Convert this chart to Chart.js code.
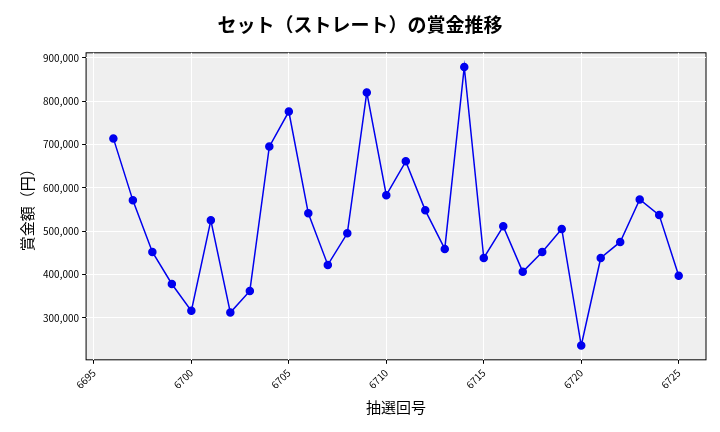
<!DOCTYPE html>
<html lang="ja">
<head>
<meta charset="UTF-8" />
<script src="https://cdn.jsdelivr.net/npm/chart.js"></script>
<style>
  body { margin: 0; background: #fff; }
  .wrap { width: 720px; height: 432px; }
</style>
</head>
<body>
<div class="wrap"><canvas id="c"></canvas></div>
<script>
const draws = [6696,6697,6698,6699,6700,6701,6702,6703,6704,6705,6706,6707,6708,6709,6710,
  6711,6712,6713,6714,6715,6716,6717,6718,6719,6720,6721,6722,6723,6724,6725];
const prizes = [714000,571000,452000,378000,316000,525000,312000,362000,695000,776000,541000,422000,495000,820000,583000,
  661000,548000,459000,879000,438000,511000,406000,452000,505000,236000,438000,475000,573000,537000,397000];

const font = "'Noto Sans CJK JP', 'DejaVu Sans', sans-serif";

const plotBg = {
  id: 'plotBg',
  beforeDraw(chart) {
    const { ctx, chartArea: a } = chart;
    ctx.save();
    ctx.fillStyle = '#efefef';
    ctx.fillRect(a.left, a.top, a.right - a.left, a.bottom - a.top);
    ctx.strokeStyle = '#000';
    ctx.lineWidth = 1;
    ctx.strokeRect(a.left, a.top, a.right - a.left, a.bottom - a.top);
    ctx.restore();
  }
};

new Chart(document.getElementById('c'), {
  type: 'line',
  data: {
    datasets: [{
      data: draws.map((d, i) => ({ x: d, y: prizes[i] })),
      borderColor: '#0000ee',
      backgroundColor: '#0000ee',
      borderWidth: 1.5,
      pointRadius: 3.5,
      tension: 0
    }]
  },
  options: {
    responsive: true,
    maintainAspectRatio: false,
    animation: false,
    layout: { padding: { left: 14, right: 14, top: 9, bottom: 12 } },
    plugins: {
      legend: { display: false },
      title: { display: true, text: 'セット（ストレート）の賞金推移', color: '#000',
        font: { family: font, size: 19, weight: 'bold' }, padding: { top: 4, bottom: 17 } }
    },
    scales: {
      x: {
        type: 'linear', min: 6694.6, max: 6726.4,
        ticks: { stepSize: 5, maxRotation: 45, minRotation: 45, color: '#000',
          font: { family: font, size: 10 },
          callback: v => (v % 5 === 0 ? String(v) : '') },
        afterBuildTicks: s => { s.ticks = [6695,6700,6705,6710,6715,6720,6725].map(v => ({ value: v })); },
        grid: { color: '#fff', drawTicks: true, tickColor: '#000', tickLength: 4 },
        border: { display: false },
        title: { display: true, text: '抽選回号', color: '#000', font: { family: font, size: 15 } }
      },
      y: {
        min: 203000, max: 911500,
        afterBuildTicks: s => { s.ticks = [300000,400000,500000,600000,700000,800000,900000].map(v => ({ value: v })); },
        ticks: { color: '#000', font: { family: font, size: 10 },
          callback: v => v.toLocaleString('en-US') },
        grid: { color: '#fff', drawTicks: true, tickColor: '#000', tickLength: 4 },
        border: { display: false },
        title: { display: true, text: '賞金額（円）', color: '#000', font: { family: font, size: 15 } }
      }
    }
  },
  plugins: [plotBg]
});
</script>
</body>
</html>
